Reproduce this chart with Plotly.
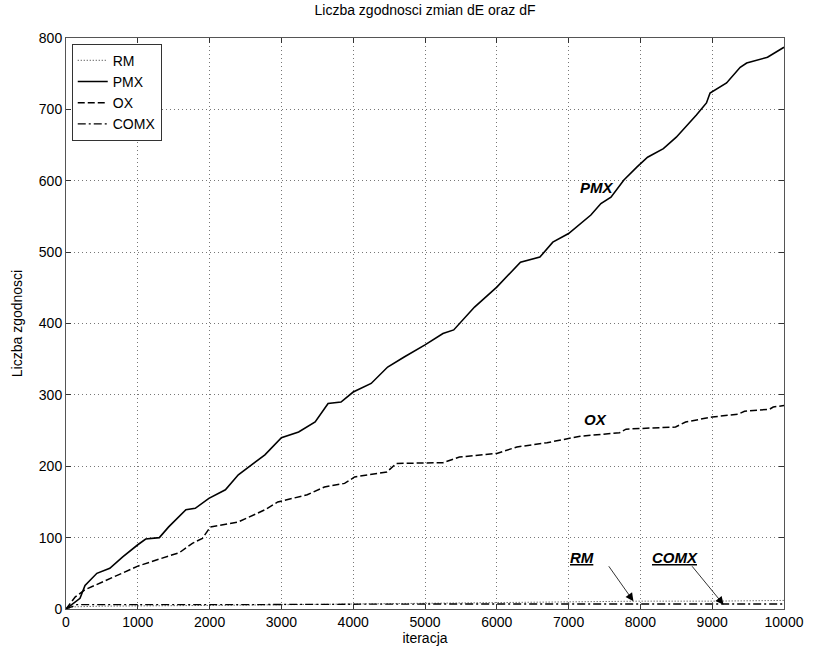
import plotly.graph_objects as go

# ---- data ----
pmx_x = [0, 100, 195, 265, 430, 610, 790, 1000, 1110, 1300, 1430, 1670, 1800, 1990, 2220, 2400,
         2580, 2770, 3000, 3240, 3470, 3650, 3830, 4000, 4250, 4480, 4710, 5000, 5250, 5400, 5690,
         6000, 6330, 6600, 6780, 7000, 7310, 7450, 7590, 7770, 7950, 8100, 8320, 8500, 8780, 8920,
         8970, 9200, 9390, 9480, 9770, 10000]
pmx_y = [0, 8, 15, 33, 50, 57, 73, 90, 98, 100, 115, 139, 141, 155, 167, 188,
         202, 216, 240, 248, 262, 288, 290, 304, 316, 339, 353, 370, 386, 391, 423,
         451, 486, 493, 514, 526, 552, 568, 577, 601, 619, 633, 645, 661, 692, 709,
         723, 737, 759, 765, 773, 787]

ox_x = [0, 130, 265, 610, 1000, 1300, 1580, 1760, 1900, 2010, 2400, 2770, 2950, 3360, 3600, 3880,
        4020, 4470, 4600, 5250, 5480, 6000, 6280, 6700, 7160, 7710, 7800, 8490, 8630, 9000, 9360,
        9450, 9800, 9850, 10000]
ox_y = [0, 17, 27, 43, 60, 70, 79, 92, 99, 115, 122, 139, 150, 160, 171, 176,
        185, 192, 204, 205, 213, 218, 227, 233, 242, 247, 252, 255, 262, 269, 273,
        277, 280, 283, 285]

rm_x = [0, 100, 500, 1000, 2000, 3000, 4000, 5000, 6000, 7000, 8000, 9000, 10000]
rm_y = [0, 3, 4, 4, 5, 6, 7, 8, 10, 10, 11, 11, 12]

comx_x = [0, 150, 2000, 5000, 10000]
comx_y = [0, 6, 6, 7, 7]

x_ticks = [0, 1000, 2000, 3000, 4000, 5000, 6000, 7000, 8000, 9000, 10000]
y_ticks = [0, 100, 200, 300, 400, 500, 600, 700, 800]

FONT = "Liberation Sans, Arial, sans-serif"

fig = go.Figure()
fig.add_trace(go.Scatter(x=rm_x, y=rm_y, mode="lines", name="RM",
                         line=dict(color="#333", width=1, dash="1px,2px")))
fig.add_trace(go.Scatter(x=pmx_x, y=pmx_y, mode="lines", name="PMX",
                         line=dict(color="black", width=1.6)))
fig.add_trace(go.Scatter(x=ox_x, y=ox_y, mode="lines", name="OX",
                         line=dict(color="black", width=1.5, dash="7px,3px")))
fig.add_trace(go.Scatter(x=comx_x, y=comx_y, mode="lines", name="COMX",
                         line=dict(color="black", width=1.3, dash="8px,3px,2px,3px")))

axis_common = dict(
    showline=True, linecolor="#555", linewidth=1, mirror="ticks",
    ticks="inside", ticklen=5, tickcolor="#333", tickwidth=1,
    showgrid=True, gridcolor="#777", gridwidth=1, griddash="1px,3px",
    zeroline=False, tickfont=dict(size=14, color="black", family=FONT),
)

fig.update_xaxes(range=[0, 10000], tickvals=x_ticks, ticktext=[str(v) for v in x_ticks],
                 title=dict(text="iteracja", font=dict(size=14, family=FONT, color="black"), standoff=4),
                 **axis_common)
fig.update_yaxes(range=[0, 800], tickvals=y_ticks, ticktext=[str(v) for v in y_ticks],
                 title=dict(text="Liczba zgodnosci", font=dict(size=14, family=FONT, color="black"), standoff=12),
                 **axis_common)

ann_font = dict(size=15, family=FONT, color="black")
annotations = [
    dict(x=7400, y=590, text="<b><i>PMX</i></b>", showarrow=False, font=ann_font),
    dict(x=7370, y=265, text="<b><i>OX</i></b>", showarrow=False, font=ann_font),
    dict(x=7186, y=72, text="<b><i><u>RM</u></i></b>", showarrow=False, font=ann_font),
    dict(x=8483, y=72, text="<b><i><u>COMX</u></i></b>", showarrow=False, font=ann_font),
    dict(x=7903, y=11, ax=7545, ay=62, axref="x", ayref="y", text="", showarrow=True,
         arrowhead=2, arrowsize=2, arrowwidth=0.8, arrowcolor="black"),
    dict(x=9159, y=6, ax=8703, ay=62, axref="x", ayref="y", text="", showarrow=True,
         arrowhead=2, arrowsize=2, arrowwidth=0.8, arrowcolor="black"),
]

fig.update_layout(
    width=816, height=657,
    margin=dict(l=66, r=25, t=38, b=48),
    paper_bgcolor="white", plot_bgcolor="white",
    title=dict(text="Liczba zgodnosci zmian dE oraz dF", x=0.5, xref="paper", xanchor="center",
               y=1, yref="container", yanchor="top", pad=dict(t=5),
               font=dict(size=14, family=FONT, color="black")),
    font=dict(family=FONT, color="black"),
    legend=dict(x=0.008, y=0.99, xanchor="left", yanchor="top",
                bgcolor="white", bordercolor="#333", borderwidth=1,
                font=dict(size=14, family=FONT, color="black"),
                tracegroupgap=0, itemwidth=30),
    annotations=annotations,
)

fig.write_html("out.html")
